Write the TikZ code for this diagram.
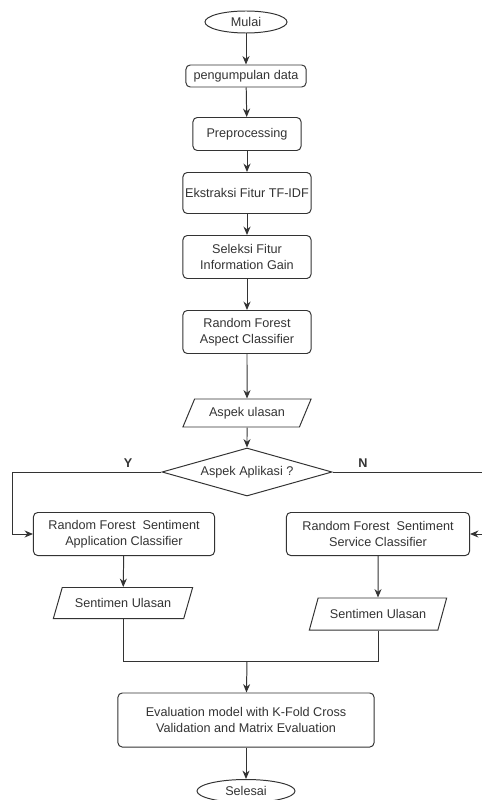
\documentclass[tikz,border=0pt]{standalone}
\usepackage{fontspec}
\setmainfont{Liberation Sans}
\usetikzlibrary{shapes.geometric,arrows.meta}

\tikzset{
    basebox/.style={draw=black!80, line width=0.7pt, text=black!80, font=\fontsize{9}{11.3}\selectfont, align=center, inner sep=1pt},
    procbox/.style={basebox, rectangle, rounded corners=3pt},
    termbox/.style={basebox, ellipse},
    iobox/.style={basebox, trapezium, trapezium left angle=59, trapezium right angle=121, trapezium stretches=true},
    decbox/.style={basebox, diamond, aspect=3.54, inner sep=0pt},
    flow/.style={draw=black!80, line width=0.7pt, -{Stealth[length=6pt,width=5pt]}},
    wire/.style={draw=black!80, line width=0.7pt}
}

\begin{document}
\begin{tikzpicture}[x=0.025cm, y=-0.025cm]
    \useasboundingbox (0,0) rectangle (481,800);

    % Start and first steps
    \node[termbox, minimum width=2.05cm, minimum height=0.55cm] (mulai) at (246,22) {Mulai};
    \node[procbox, minimum width=3cm, minimum height=0.55cm] (kumpul) at (246,76) {pengumpulan data};
    \node[procbox, minimum width=2.7cm, minimum height=0.825cm] (prep) at (247,134) {Preprocessing};
    \node[procbox, minimum width=3.2cm, minimum height=1.025cm] (ekstrak) at (247,193) {Ekstraksi Fitur TF-IDF};
    \node[procbox, minimum width=3.2cm, minimum height=1.075cm] (seleksi) at (247,257) {Seleksi Fitur\\Information Gain};
    \node[procbox, minimum width=3.2cm, minimum height=1.075cm] (rfaspek) at (247,332) {Random Forest\\Aspect Classifier};

    % Aspect output and decision
    \node[iobox, minimum width=3.225cm, minimum height=0.7cm] (aspek) at (247,413) {Aspek ulasan};
    \node[decbox, minimum width=4.25cm, minimum height=1.2cm] (cek) at (247,472) {Aspek Aplikasi ?};

    % Sentiment classifiers
    \node[procbox, minimum width=4.525cm, minimum height=1.075cm] (rfapp) at (124,534) {Random Forest~ Sentiment\\Application Classifier};
    \node[procbox, minimum width=4.575cm, minimum height=1.075cm] (rfsvc) at (378,534) {Random Forest~ Sentiment\\Service Classifier};
    \node[iobox, minimum width=3.5cm, minimum height=0.775cm] (sentl) at (123,603) {Sentimen Ulasan};
    \node[iobox, minimum width=3.45cm, minimum height=0.8cm] (sentr) at (378,614) {Sentimen Ulasan};

    % Evaluation and end
    \node[procbox, minimum width=6.4cm, minimum height=1.35cm] (evalm) at (246,720) {Evaluation model with K-Fold Cross\\Validation and Matrix Evaluation};
    \node[termbox, minimum width=2.45cm, minimum height=0.575cm] (selesai) at (246,791) {Selesai};

    % Branch corners and merge point
    \coordinate (yturn) at (12,472);
    \coordinate (nturn) at (484,472);
    \coordinate (merge) at (247,661);

    % Main flow
    \draw[flow] (mulai) -- (kumpul);
    \draw[flow] (kumpul) -- (prep);
    \draw[flow] (prep) -- (ekstrak);
    \draw[flow] (ekstrak) -- (seleksi);
    \draw[flow] (seleksi) -- (rfaspek);
    \draw[flow] (rfaspek) -- (aspek);
    \draw[flow] (aspek) -- (cek);

    % Y and N branches
    \draw[flow] (cek.west) -- (yturn) |- (rfapp.west);
    \draw[flow] (cek.east) -- (nturn) |- (rfsvc.east);
    \node[font=\fontsize{9}{11}\selectfont\bfseries, text=black!80] (ylabel) at (128,463) {Y};
    \node[font=\fontsize{9}{11}\selectfont\bfseries, text=black!80] (nlabel) at (363,463) {N};

    \draw[flow] (rfapp) -- (sentl);
    \draw[flow] (rfsvc) -- (sentr);

    % Merge into evaluation
    \draw[wire] (sentl.south) |- (merge);
    \draw[wire] (sentr.south) |- (merge);
    \draw[flow] (merge) -- (evalm);
    \draw[flow] (evalm) -- (selesai);
\end{tikzpicture}
\end{document}
